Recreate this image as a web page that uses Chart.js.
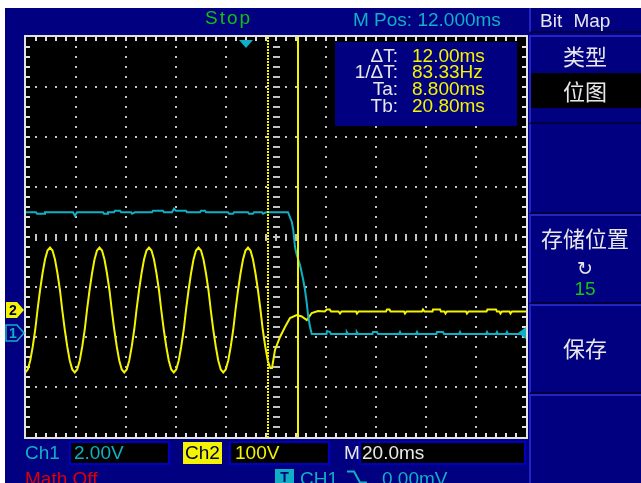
<!DOCTYPE html>
<html>
<head>
<meta charset="utf-8">
<script src="https://cdn.jsdelivr.net/npm/chart.js@4.4.1/dist/chart.umd.min.js"></script>
<style>
  html, body { margin: 0; padding: 0; background: #fff; overflow: hidden; width: 641px; height: 483px; }
  #screen { position: absolute; left: 5px; top: 8px; width: 636px; height: 475px; background: #000080; }
  #plotWrap { position: absolute; left: 0; top: 0; width: 641px; height: 483px; z-index: 1; }
  .t { position: absolute; font-family: "Liberation Sans", Arial, sans-serif; font-size: 19px; line-height: 20px; white-space: pre; z-index: 3; }
  .cjk { position: absolute; font-family: "Noto Sans CJK SC", sans-serif; font-size: 22px; line-height: 26px; color: #e8e8e8; text-align: center; left: 529px; width: 112px; z-index: 3; }
  .box { position: absolute; box-sizing: border-box; z-index: 2; }
  .cyan { color: #10b0c4; }
  .yellow { color: #f4f400; }
  .white { color: #e8e8e8; }
</style>
</head>
<body>
<div id="screen"></div>
<div id="plotWrap"><canvas id="scope"></canvas></div>

<!-- top bar -->
<div class="t" style="left:205px; top:8px; color:#10c010; letter-spacing:2px;">Stop</div>
<div class="t cyan" style="left:353px; top:10px;">M Pos: 12.000ms</div>

<!-- cursor readout -->
<div class="box" style="left:335px; top:42px; width:182px; height:84px; background:#000080;"></div>
<div class="t white" style="left:300px; width:98px; text-align:right; top:46px;">ΔT:</div>
<div class="t white" style="left:300px; width:98px; text-align:right; top:62px;">1/ΔT:</div>
<div class="t white" style="left:300px; width:98px; text-align:right; top:79px;">Ta:</div>
<div class="t white" style="left:300px; width:98px; text-align:right; top:96px;">Tb:</div>
<div class="t yellow" style="left:412px; top:46px;">12.00ms</div>
<div class="t yellow" style="left:412px; top:62px;">83.33Hz</div>
<div class="t yellow" style="left:412px; top:79px;">8.800ms</div>
<div class="t yellow" style="left:412px; top:96px;">20.80ms</div>

<!-- right menu -->
<div class="box" style="left:529px; top:8px; width:112px; height:25px; border-left:2px solid #2424c4; border-bottom:2px solid #00003c;"></div>
<div class="t white" style="left:540px; top:11px; word-spacing:6px;">Bit Map</div>
<div class="box" style="left:529px; top:35px; width:112px; height:89px; border-left:2px solid #2424c4; border-top:2px solid #2424c4; border-bottom:2px solid #00003c;"></div>
<div class="cjk" style="top:42px;">类型</div>
<div class="box" style="left:531px; top:73px; width:110px; height:35px; background:#000;"></div>
<div class="cjk" style="top:77px;">位图</div>
<div class="box" style="left:529px; top:124px; width:112px; height:90px; border-left:2px solid #2424c4; border-bottom:2px solid #00003c;"></div>
<div class="box" style="left:529px; top:214px; width:112px; height:90px; border-left:2px solid #2424c4; border-top:2px solid #2424c4; border-bottom:2px solid #00003c;"></div>
<div class="cjk" style="top:224px;">存储位置</div>
<div class="t white" style="left:529px; width:112px; text-align:center; top:258px; font-family:'DejaVu Sans'; font-size:19px;">↻</div>
<div class="t" style="left:529px; width:112px; text-align:center; top:279px; color:#10c810;">15</div>
<div class="box" style="left:529px; top:304px; width:112px; height:90px; border-left:2px solid #2424c4; border-top:2px solid #2424c4; border-bottom:2px solid #00003c;"></div>
<div class="cjk" style="top:334px;">保存</div>
<div class="box" style="left:529px; top:394px; width:112px; height:89px; border-left:2px solid #2424c4; border-top:2px solid #2424c4;"></div>

<!-- bottom bar -->
<div class="t cyan" style="left:25px; top:443px;">Ch1</div>
<div class="box" style="left:69px; top:441px; width:101px; height:24px; background:#000; border:2px solid #0000c0;"></div>
<div class="t cyan" style="left:74px; top:443px;">2.00V</div>
<div class="box" style="left:183px; top:442px; width:39px; height:22px; background:#f4f400;"></div>
<div class="t" style="left:183px; width:39px; text-align:center; top:443px; color:#000040;">Ch2</div>
<div class="box" style="left:229px; top:441px; width:101px; height:24px; background:#000; border:2px solid #0000c0;"></div>
<div class="t yellow" style="left:235px; top:443px;">100V</div>
<div class="t white" style="left:344px; top:443px;">M</div>
<div class="box" style="left:359px; top:441px; width:167px; height:24px; background:#000; border:2px solid #0000c0;"></div>
<div class="t white" style="left:362px; top:443px;">20.0ms</div>
<div class="t" style="left:25px; top:469px; color:#e00000;">Math Off</div>
<div class="box" style="left:275px; top:469px; width:19px; height:16px; background:#10b0c4;"></div>
<div class="t" style="left:275px; width:19px; text-align:center; top:467px; font-size:14px; font-weight:bold; color:#000080;">T</div>
<div class="t cyan" style="left:300px; top:469px;">CH1</div>
<svg style="position:absolute; left:347px; top:470px; z-index:3;" width="20" height="14"><path d="M0 1.5H7L13 12.5H20" stroke="#10b0c4" stroke-width="2" fill="none"/></svg>
<div class="t cyan" style="left:382px; top:469px;">0.00mV</div>

<script>
// horizontal: M Pos 12 ms, 20 ms/div, 10 divisions
const timePerDiv = 20;
const mPos = 12;
const xDivs = 10;
const yDivs = 8;
// vertical: volts per division and ground offset in divisions from centre
const ch1VoltsPerDiv = 2;
const ch1Offset = -1.92;
const ch2VoltsPerDiv = 100;
const ch2Offset = -1.46;
// cursors and trigger
const cursorTa = 8.8;
const cursorTb = 20.8;
const triggerTime = 0;
const triggerLevel = 0;

// CH1 (cyan), time in ms, volts
const ch1Times = [-88, -84, -83.6, -80.8, -80.4, -69.2, -68.4, -67.6, -57.2, -56.8, -55.6, -55.2,
  -52.8, -52.4, -50.4, -50, -46, -45.6, -44.4, -37.6, -37.2, -33.2, -32.8, -29.6, -28.8, -28,
  -24, -23.6, -18.4, -18, -16.4, -16, -7.2, -6.8, -5.2, -4.8, 0.8, 1.2, 2.8, 3.2, 6.4, 6.8, 8, 16.8,
  18.3, 18.9, 19.6, 20.3, 21.6, 22.3, 22.9, 23.6, 24.3, 24.9, 25.6, 26.3,
  32.2, 32.4, 33.6, 34, 40, 40.3, 40.8, 44, 44.3, 44.8, 50.6, 50.8, 52.4, 52.8, 61.2, 61.6, 62,
  68, 68.4, 68.8, 76.2, 76.4, 78.8, 79.2, 85.2, 85.6, 86, 96, 96.4, 96.8, 100, 100.4, 100.8,
  104, 104.4, 104.8, 112];
const ch1Volts = [4.83, 4.83, 4.77, 4.77, 4.83, 4.83, 4.69, 4.83, 4.83, 4.77, 4.77, 4.83,
  4.83, 4.89, 4.89, 4.83, 4.83, 4.77, 4.83, 4.83, 4.89, 4.89, 4.83, 4.83, 4.97, 4.89,
  4.89, 4.83, 4.83, 4.89, 4.89, 4.83, 4.83, 4.77, 4.77, 4.83, 4.83, 4.77, 4.77, 4.83, 4.83, 4.77, 4.83, 4.83,
  4.45, 4.12, 3.45, 3.12, 2.72, 2.40, 2.12, 1.72, 1.20, 0.65, 0.25, -0.04,
  -0.04, 0.08, 0.04, -0.04, -0.04, 0.04, -0.04, -0.04, 0.04, -0.04, -0.04, 0.04, 0.04, -0.04, -0.04, 0.04, -0.04,
  -0.04, 0.04, -0.04, -0.04, 0.04, 0.04, -0.04, -0.04, 0.04, -0.04, -0.04, 0.04, -0.04, -0.04, 0.04, -0.04,
  -0.04, 0.04, -0.04, -0.04];

// CH2 (yellow), time in ms, volts
const ch2Times = [
  -88.3, -87.3, -86.3, -85.3, -84.3, -83.4, -82.4, -81.4, -80.4, -79.4,
  -78.4, -77.4, -76.4, -75.4, -74.4, -73.5, -72.5, -71.5, -70.5, -69.5,
  -68.5, -67.5, -66.5, -65.5, -64.5, -63.6, -62.6, -61.6, -60.6, -59.6,
  -58.6, -57.6, -56.6, -55.6, -54.6, -53.7, -52.7, -51.7, -50.7, -49.7,
  -48.7, -47.7, -46.7, -45.7, -44.7, -43.8, -42.8, -41.8, -40.8, -39.8,
  -38.8, -37.8, -36.8, -35.8, -34.8, -33.9, -32.9, -31.9, -30.9, -29.9,
  -28.9, -27.9, -26.9, -25.9, -24.9, -24.0, -23.0, -22.0, -21.0, -20.0,
  -19.0, -18.0, -17.0, -16.0, -15.0, -14.1, -13.1, -12.1, -11.1, -10.1,
  -9.1, -8.1, -7.1, -6.1, -5.1, -4.2, -3.2, -2.2, -1.2, -0.2,
  0.8, 1.8, 2.8, 3.8, 4.8, 5.8, 6.7, 7.7, 8.7,
  9.7, 10.4, 11.6, 13.6, 15.6, 17.6, 20.3, 22.3, 24.3, 26.3, 28.8,
  31.5, 32.3, 33.5, 34, 37, 37.6, 38.2, 44, 44.4, 45, 56, 56.4, 57.4, 57.8, 63.2, 63.6, 64.2,
  70.4, 70.8, 71.4, 74.6, 74.8, 77.6, 78, 79.4, 79.8, 80.4, 88, 88.4, 89, 96.2, 96.6, 100, 100.4,
  101.4, 101.8, 102.4, 105.4, 105.8, 106.4, 112];
const ch2Volts = [
  -125, -119, -101, -73, -39, 0, 39, 73, 101, 119,
  125, 119, 101, 73, 39, 0, -39, -73, -101, -119,
  -125, -119, -101, -73, -39, 0, 39, 73, 101, 119,
  125, 119, 101, 73, 39, 0, -39, -73, -101, -119,
  -125, -119, -101, -73, -39, 0, 39, 73, 101, 119,
  125, 119, 101, 73, 39, 0, -39, -73, -101, -119,
  -125, -119, -101, -73, -39, 0, 39, 73, 101, 119,
  125, 119, 101, 73, 39, 0, -39, -73, -101, -119,
  -125, -119, -101, -73, -39, 0, 39, 73, 101, 119,
  125, 119, 101, 73, 39, 0, -39, -73, -101,
  -116, -116, -80, -54, -34, -16, -10, -13, -20, -6, -2,
  -3, 1, 1, -3, -3, -7, -3, -3, -7, -3, -3, 1, 1, -3, -3, -7, -3,
  -3, 1, -3, -3, 1, 1, -3, -3, -7, -3, -3, -7, -3, -3, 1, 1, -3,
  -3, -7, -3, -3, -7, -3, -3];

const cyan = '#10b0c4';
const yellow = '#f4f400';
const gridColor = '#c4c4c4';
const borderColor = '#e0e0e0';

function toPoints(times, volts) {
    return times.map((t, i) => ({ x: t, y: volts[i] }));
}

// oscilloscope graticule, cursors and markers
const scopeScreen = {
    id: 'scopeScreen',
    beforeDraw(chart) {
        const { ctx, chartArea: a } = chart;
        ctx.save();
        ctx.fillStyle = '#000';
        ctx.fillRect(a.left, a.top, a.right - a.left, a.bottom - a.top);
        ctx.restore();
    },
    beforeDatasetsDraw(chart) {
        const { ctx, chartArea: a } = chart;
        const w = a.right - a.left, h = a.bottom - a.top;
        const dx = w / xDivs, dy = h / yDivs, step = dx / 5;
        ctx.save();
        ctx.fillStyle = gridColor;
        for (let i = 1; i < xDivs; i++) {
            if (i === xDivs / 2) continue;
            const x = Math.round(a.left + i * dx);
            for (let y = a.top + step; y < a.bottom - 1; y += step) ctx.fillRect(x - 1, Math.round(y) - 1, 2, 2);
        }
        for (let j = 1; j < yDivs; j++) {
            if (j === yDivs / 2) continue;
            const y = Math.round(a.top + j * dy);
            for (let x = a.left + step; x < a.right - 1; x += step) ctx.fillRect(Math.round(x) - 1, y - 1, 2, 2);
        }
        const cx = Math.round(a.left + w / 2), cy = Math.round(a.top + h / 2);
        for (let y = a.top + step; y < a.bottom - 1; y += step) ctx.fillRect(cx - 3, Math.round(y) - 1, 7, 2);
        for (let x = a.left + step; x < a.right - 1; x += step) ctx.fillRect(Math.round(x) - 1, cy - 3, 2, 7);

        ctx.fillStyle = borderColor;
        ctx.fillRect(a.left - 2, a.top - 2, w + 4, 2);
        ctx.fillRect(a.left - 2, a.bottom, w + 4, 2);
        ctx.fillRect(a.left - 2, a.top - 2, 2, h + 4);
        ctx.fillRect(a.right, a.top - 2, 2, h + 4);
        for (let x = a.left + step; x < a.right - 1; x += step) {
            ctx.fillRect(Math.round(x) - 1, a.top, 2, 4);
            ctx.fillRect(Math.round(x) - 1, a.bottom - 4, 2, 4);
        }
        for (let y = a.top + step; y < a.bottom - 1; y += step) {
            ctx.fillRect(a.left, Math.round(y) - 1, 4, 2);
            ctx.fillRect(a.right - 4, Math.round(y) - 1, 4, 2);
        }
        ctx.restore();
    },
    afterDatasetsDraw(chart) {
        const { ctx, chartArea: a, scales } = chart;
        ctx.save();
        // cursor Ta dotted, cursor Tb solid
        ctx.fillStyle = yellow;
        const xa = Math.round(scales.x.getPixelForValue(cursorTa));
        for (let y = a.top; y < a.bottom; y += 3) ctx.fillRect(xa - 1, y, 2, 2);
        const xb = Math.round(scales.x.getPixelForValue(cursorTb));
        ctx.fillRect(xb - 1, a.top, 2, a.bottom - a.top);

        // trigger position (top) and trigger level (right)
        ctx.fillStyle = cyan;
        const xt = Math.round(scales.x.getPixelForValue(triggerTime));
        ctx.beginPath();
        ctx.moveTo(xt - 7, a.top + 3); ctx.lineTo(xt + 7, a.top + 3); ctx.lineTo(xt, a.top + 11);
        ctx.closePath(); ctx.fill();
        const yl = Math.round(scales.y1.getPixelForValue(triggerLevel));
        ctx.beginPath();
        ctx.moveTo(a.right, yl - 6); ctx.lineTo(a.right, yl + 6); ctx.lineTo(a.right - 8, yl);
        ctx.closePath(); ctx.fill();

        // channel ground markers
        const drawMarker = (y, fill, stroke, textColor, label) => {
            ctx.beginPath();
            ctx.moveTo(6, y - 8); ctx.lineTo(17, y - 8); ctx.lineTo(24, y);
            ctx.lineTo(17, y + 8); ctx.lineTo(6, y + 8); ctx.closePath();
            ctx.fillStyle = fill; ctx.fill();
            if (stroke) { ctx.strokeStyle = stroke; ctx.lineWidth = 1.5; ctx.stroke(); }
            ctx.fillStyle = textColor;
            ctx.font = 'bold 14px "Liberation Sans"';
            ctx.textAlign = 'center'; ctx.textBaseline = 'middle';
            ctx.fillText(label, 13, y + 1);
        };
        drawMarker(Math.round(scales.y2.getPixelForValue(0)), yellow, null, '#000040', '2');
        drawMarker(Math.round(scales.y1.getPixelForValue(0)), '#000080', cyan, cyan, '1');
        ctx.restore();
    }
};

function createScopeChart() {
    const ctx = document.getElementById('scope').getContext('2d');
    const xMin = mPos - timePerDiv * xDivs / 2;
    const xMax = mPos + timePerDiv * xDivs / 2;
    new Chart(ctx, {
        type: 'line',
        data: {
            datasets: [{
                label: 'CH1',
                data: toPoints(ch1Times, ch1Volts),
                yAxisID: 'y1',
                borderColor: cyan,
                borderWidth: 2,
                pointRadius: 0,
                tension: 0
            }, {
                label: 'CH2',
                data: toPoints(ch2Times, ch2Volts),
                yAxisID: 'y2',
                borderColor: yellow,
                borderWidth: 2,
                pointRadius: 0,
                tension: 0
            }]
        },
        options: {
            responsive: true,
            maintainAspectRatio: false,
            animation: false,
            layout: { padding: { left: 26, top: 37, right: 115, bottom: 46 } },
            plugins: { legend: { display: false }, tooltip: { enabled: false } },
            scales: {
                x: { type: 'linear', min: xMin, max: xMax, display: false },
                y1: {
                    type: 'linear', display: false,
                    min: (-yDivs / 2 - ch1Offset) * ch1VoltsPerDiv,
                    max: (yDivs / 2 - ch1Offset) * ch1VoltsPerDiv
                },
                y2: {
                    type: 'linear', display: false,
                    min: (-yDivs / 2 - ch2Offset) * ch2VoltsPerDiv,
                    max: (yDivs / 2 - ch2Offset) * ch2VoltsPerDiv
                }
            }
        },
        plugins: [scopeScreen]
    });
}

createScopeChart();
</script>
</body>
</html>
